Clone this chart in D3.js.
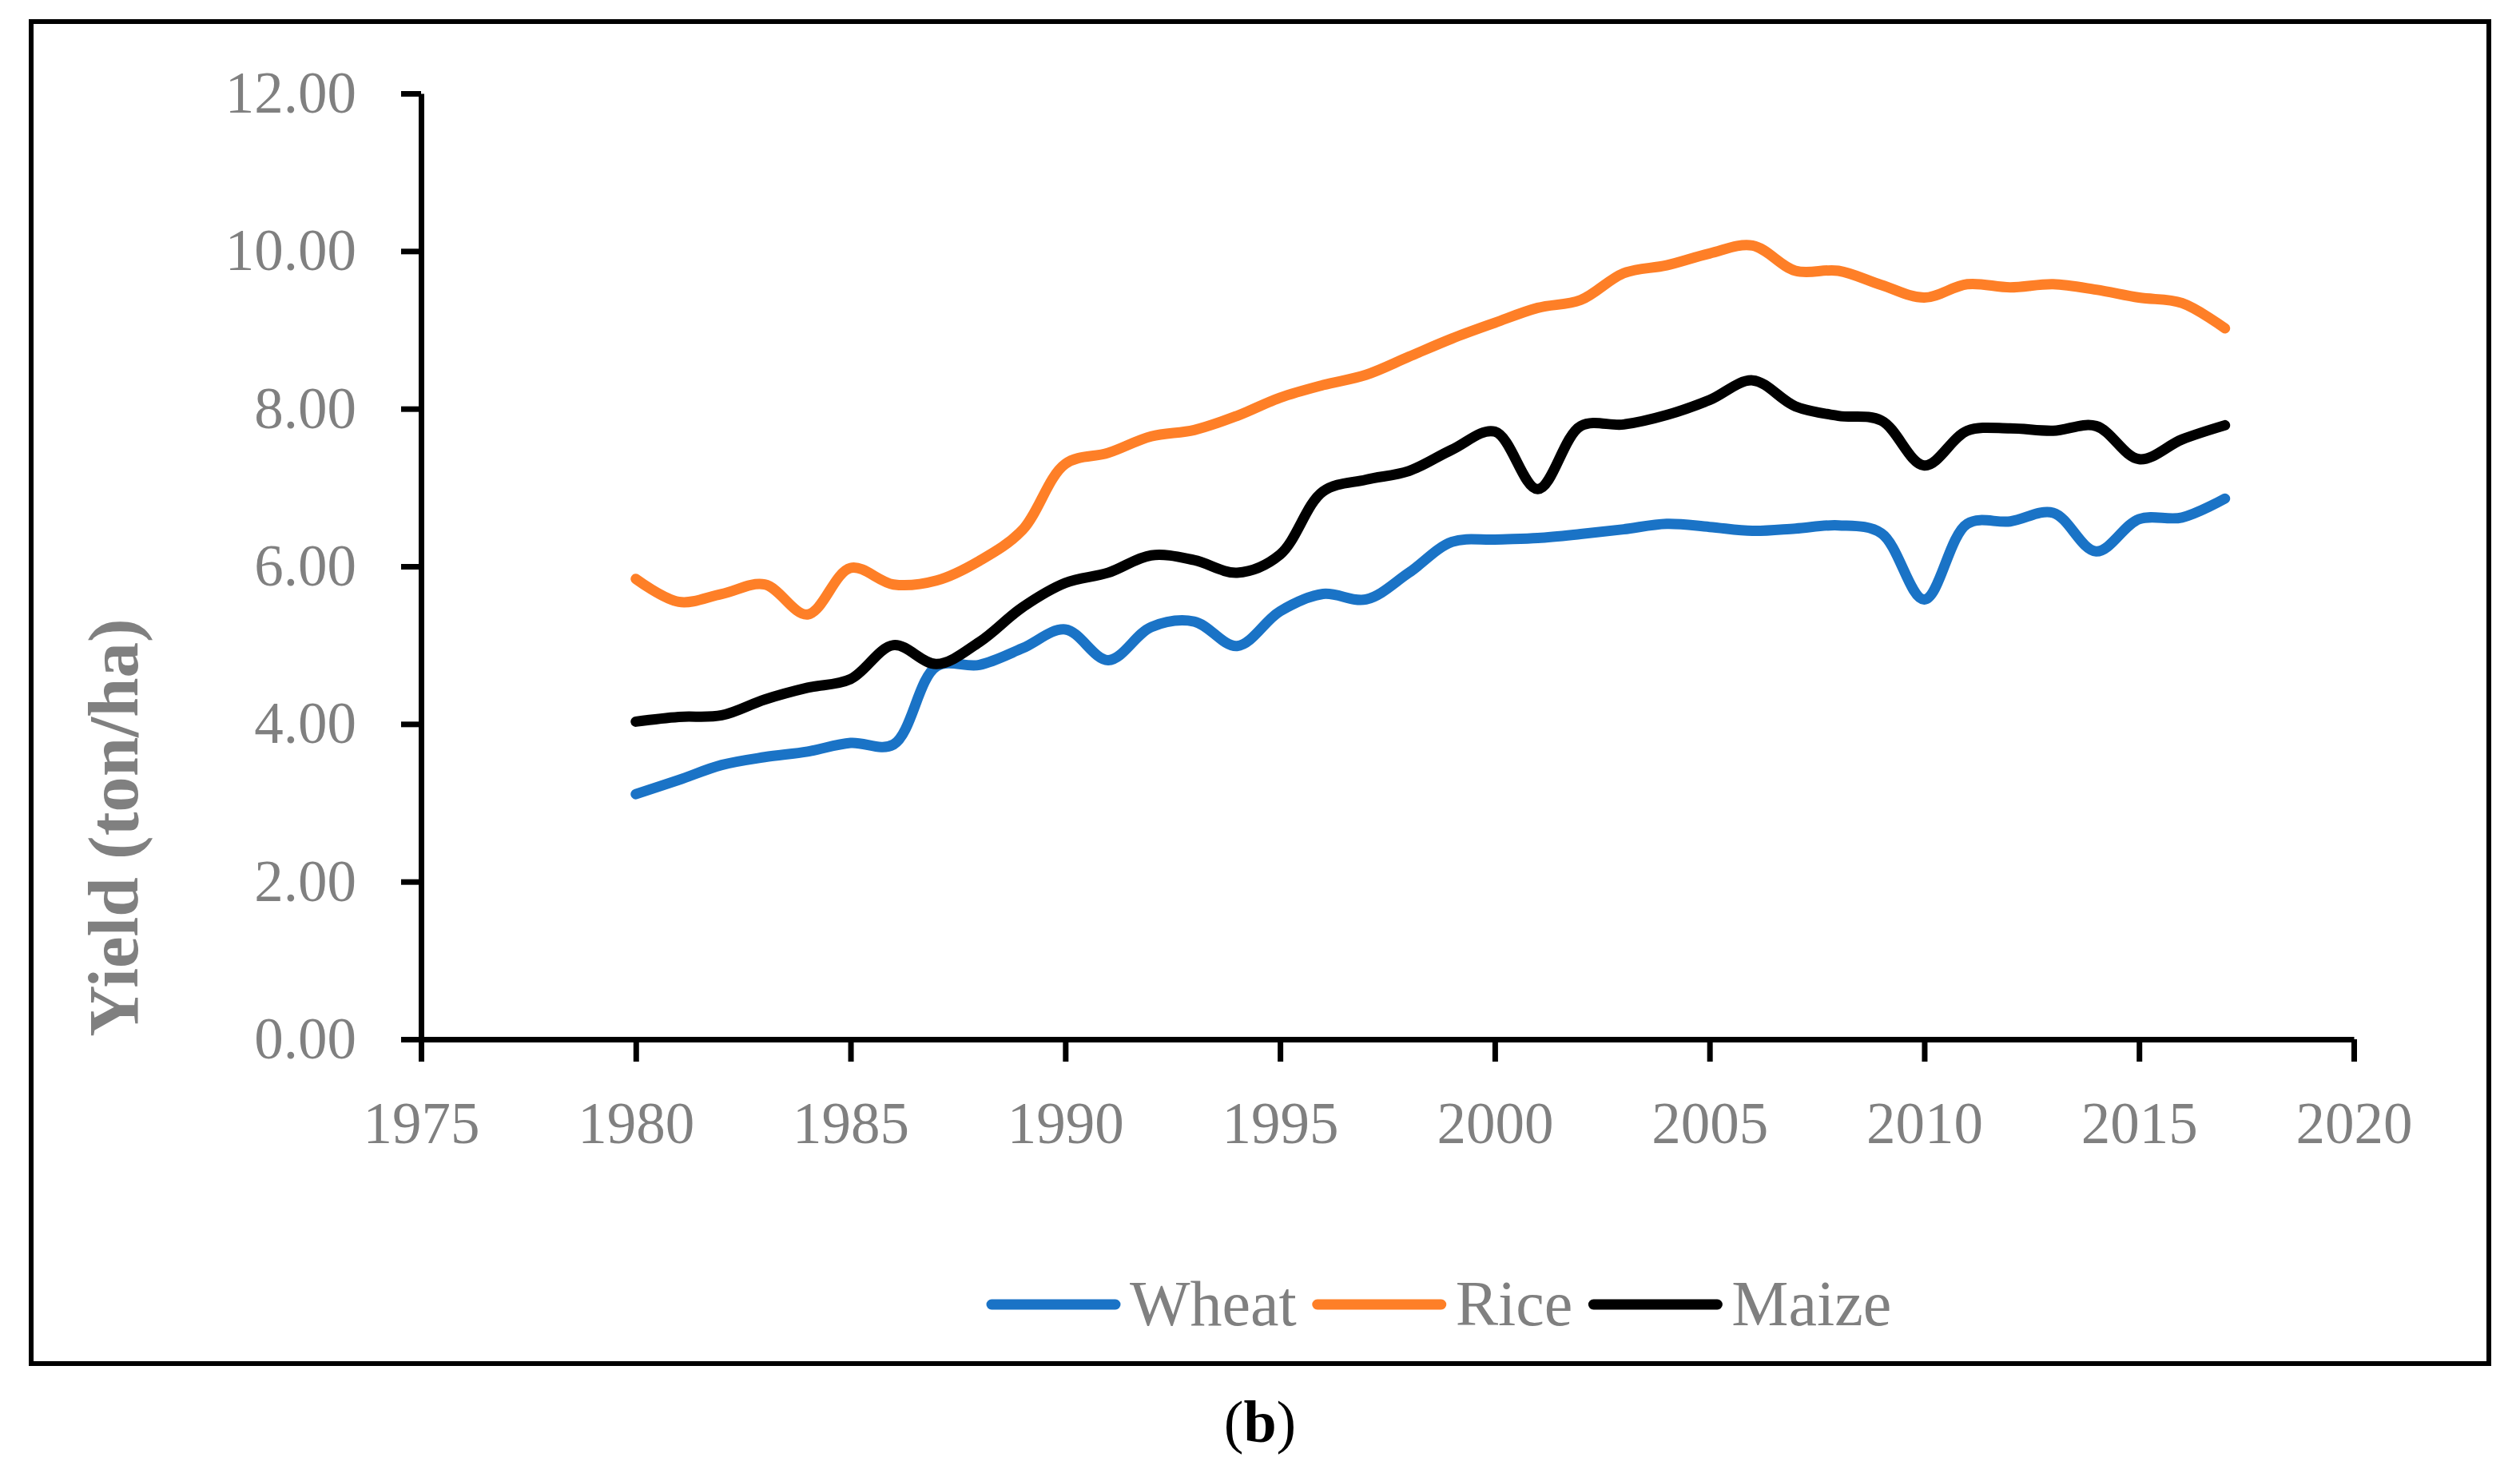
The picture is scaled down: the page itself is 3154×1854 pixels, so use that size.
<!DOCTYPE html>
<html lang="en">
<meta charset="utf-8">
<style>
  body { margin: 0; background: #fff; }
  svg text { font-family: "Liberation Serif", "DejaVu Serif", serif; }
</style>
<body>
<div id="my_dataviz"></div>

<script src="https://d3js.org/d3.v7.min.js"></script>
<script>

// data
var years = d3.range(1980, 2018);
var wheat = [3.11, 3.29, 3.48, 3.58, 3.65, 3.76, 3.74, 4.73, 4.75, 4.96,
             5.20, 4.81, 5.23, 5.30, 4.99, 5.43, 5.65, 5.58, 5.92, 6.31,
             6.34, 6.36, 6.41, 6.47, 6.54, 6.50, 6.45, 6.48, 6.52, 6.42,
             5.58, 6.54, 6.57, 6.68, 6.19, 6.60, 6.62, 6.86];
var rice = [5.84, 5.55, 5.65, 5.77, 5.39, 5.98, 5.77, 5.82, 6.07, 6.46,
            7.30, 7.44, 7.65, 7.73, 7.91, 8.14, 8.30, 8.43, 8.66, 8.89,
            9.09, 9.28, 9.38, 9.72, 9.82, 9.97, 10.07, 9.75, 9.75, 9.57,
            9.41, 9.58, 9.54, 9.58, 9.51, 9.41, 9.34, 9.02];
var maize = [4.03, 4.09, 4.11, 4.31, 4.46, 4.57, 5.00, 4.76, 5.04, 5.48,
             5.79, 5.92, 6.14, 6.08, 5.92, 6.15, 6.95, 7.10, 7.21, 7.48,
             7.71, 6.98, 7.78, 7.80, 7.92, 8.11, 8.36, 8.03, 7.91, 7.85,
             7.28, 7.72, 7.75, 7.72, 7.78, 7.36, 7.61, 7.79];
var seriesNames = ["Wheat", "Rice", "Maize"];
var seriesColors = ["#1a73c6", "#fe7f27", "#000000"];
var xTicks = [1975, 1980, 1985, 1990, 1995, 2000, 2005, 2010, 2015, 2020];
var yTicks = [0, 2, 4, 6, 8, 10, 12];

var W = 3154, H = 1854;
var margin = {top: 117, right: 208, bottom: 553, left: 527},
  width = W - margin.left - margin.right,
  height = H - margin.top - margin.bottom;

var root = d3.select("#my_dataviz")
  .append("svg")
    .attr("width", W)
    .attr("height", H);

// outer frame
root.append("rect")
  .attr("x", 39).attr("y", 27)
  .attr("width", 3115 - 39).attr("height", 1707 - 27)
  .attr("fill", "none")
  .attr("stroke", "#000")
  .attr("stroke-width", 6);

var svg = root.append("g")
  .attr("transform", "translate(" + margin.left + "," + margin.top + ")");

var x = d3.scaleLinear().domain([1975, 2020]).range([0, width]);
var y = d3.scaleLinear().domain([0, 12]).range([height, 0]);

// X axis
var gx = svg.append("g")
  .attr("transform", "translate(0," + height + ")")
  .call(d3.axisBottom(x).tickValues(xTicks).tickFormat(d3.format("d"))
    .tickSize(28).tickSizeOuter(0).tickPadding(50));

// Y axis
var gy = svg.append("g")
  .call(d3.axisLeft(y).tickValues(yTicks).tickFormat(d3.format(".2f"))
    .tickSize(25).tickSizeOuter(0).tickPadding(56));

[gx, gy].forEach(function(g) {
  g.select(".domain").attr("stroke", "#000").attr("stroke-width", 7);
  g.selectAll(".tick line").attr("stroke", "#000").attr("stroke-width", 7);
  g.selectAll(".tick text")
    .attr("fill", "#808080")
    .style("font-size", "73px");
});

// y title
root.append("text")
  .attr("transform", "translate(172,1036) rotate(-90)")
  .attr("text-anchor", "middle")
  .attr("fill", "#808080")
  .style("font-size", "89px")
  .style("font-weight", "bold")
  .text("Yield (ton/ha)");

// lines
var line = d3.line()
  .x(function(d) { return x(d[0]); })
  .y(function(d) { return y(d[1]); })
  .curve(d3.curveCatmullRom.alpha(0.5));

[wheat, rice, maize].forEach(function(vals, i) {
  svg.append("path")
    .datum(years.map(function(yr, j) { return [yr, vals[j]]; }))
    .attr("fill", "none")
    .attr("stroke", seriesColors[i])
    .attr("stroke-width", 13)
    .attr("stroke-linecap", "round")
    .attr("stroke-linejoin", "round")
    .attr("d", line);
});

// legend
var lx = 1235, ly = 1633;
seriesNames.forEach(function(name, i) {
  root.append("line")
    .attr("x1", lx + 6).attr("x2", lx + 161)
    .attr("y1", ly).attr("y2", ly)
    .attr("stroke", seriesColors[i])
    .attr("stroke-width", 13)
    .attr("stroke-linecap", "round");
  var t = root.append("text")
    .attr("x", lx + 179).attr("y", ly + 26)
    .attr("fill", "#808080")
    .style("font-size", "80px")
    .text(name);
  lx = lx + 179 + t.node().getComputedTextLength() + 20;
});

// panel label
var lab = root.append("text")
  .attr("x", 1577).attr("y", 1805)
  .attr("text-anchor", "middle")
  .attr("fill", "#000")
  .style("font-size", "74px");
lab.append("tspan").text("(");
lab.append("tspan").style("font-weight", "bold").text("b");
lab.append("tspan").text(")");

</script>
</body>
</html>
